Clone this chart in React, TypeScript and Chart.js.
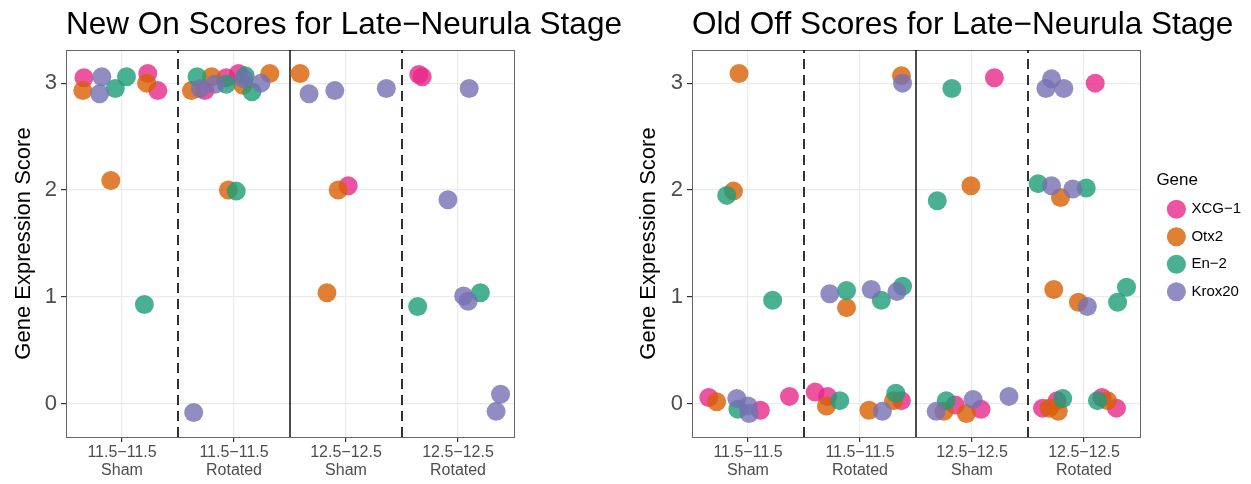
import React, { useEffect, useRef } from 'react';
import { Chart, registerables } from 'chart.js';

Chart.register(...registerables);

// ---------- data ----------
const genes = ['XCG−1', 'Otx2', 'En−2', 'Krox20'];
const geneColors = [
  'rgba(231,41,138,0.8)',
  'rgba(217,95,2,0.8)',
  'rgba(27,158,119,0.8)',
  'rgba(117,112,179,0.8)',
];
const stageLabels = ['11.5−11.5', '11.5−11.5', '12.5−12.5', '12.5−12.5'];
const conditionLabels = ['Sham', 'Rotated', 'Sham', 'Rotated'];
const xTicks = [1, 2, 3, 4];
const yTicks = [0, 1, 2, 3];
const dashedDividers = [1.5, 3.5];
const solidDividers = [2.5];
const yRange = [-0.31, 3.31];
const xRange = [0.5, 4.5];

// New On scores: [jittered group position, score]
const newOnXCG1 = [
  [0.66, 3.05], [1.23, 3.09], [1.32, 2.93], [1.74, 2.93], [1.93, 3.05], [2.04, 3.09],
  [3.02, 2.04], [3.65, 3.08], [3.68, 3.06],
];
const newOnOtx2 = [
  [0.65, 2.93], [1.22, 3.0], [0.9, 2.09], [1.62, 2.93], [1.8, 3.06], [2.08, 2.98],
  [2.32, 3.09], [1.95, 2.0], [2.59, 3.09], [2.93, 2.0], [2.83, 1.04],
];
const newOnEn2 = [
  [0.94, 2.95], [1.04, 3.06], [1.2, 0.93], [1.67, 3.06], [1.93, 2.99], [2.1, 3.07],
  [2.16, 2.92], [2.02, 1.99], [3.64, 0.91], [4.2, 1.04],
];
const newOnKrox20 = [
  [0.82, 3.06], [0.8, 2.9], [1.64, -0.08], [1.7, 2.95], [1.83, 2.99], [2.09, 3.04],
  [2.24, 3.0], [2.67, 2.9], [2.9, 2.93], [3.36, 2.95], [4.1, 2.95], [3.91, 1.91],
  [4.05, 1.01], [4.09, 0.96], [4.38, 0.09], [4.34, -0.07],
];

// Old Off scores
const oldOffXCG1 = [
  [0.65, 0.06], [1.11, -0.06], [1.37, 0.07], [1.6, 0.11], [1.71, 0.07], [2.37, 0.03],
  [3.2, 3.05], [2.85, -0.01], [3.08, -0.05], [4.1, 3.0], [3.63, -0.04], [3.76, 0.03],
  [4.16, 0.06], [4.29, -0.04],
];
const oldOffOtx2 = [
  [0.72, 0.02], [0.92, 3.09], [0.87, 1.99], [1.7, -0.02], [1.88, 0.9], [2.37, 3.07],
  [2.08, -0.06], [2.3, 0.03], [2.99, 2.04], [2.75, -0.07], [2.95, -0.09], [3.79, 1.93],
  [3.73, 1.07], [3.95, 0.95], [3.69, -0.04], [3.77, -0.07], [4.21, 0.03],
];
const oldOffEn2 = [
  [0.91, -0.05], [0.81, 1.95], [1.22, 0.97], [1.82, 0.03], [1.88, 1.06], [2.19, 0.97],
  [2.38, 1.1], [2.32, 0.1], [2.82, 2.95], [2.69, 1.9], [2.77, 0.03], [3.59, 2.06],
  [4.02, 2.02], [4.3, 0.95], [4.38, 1.09], [3.81, 0.05], [4.12, 0.03],
];
const oldOffKrox20 = [
  [0.9, 0.05], [1.0, -0.02], [1.01, -0.09], [1.73, 1.03], [2.1, 1.07], [2.33, 1.05],
  [2.38, 3.0], [2.2, -0.07], [2.68, -0.07], [3.01, 0.04], [3.33, 0.07], [3.71, 3.04],
  [3.66, 2.95], [3.82, 2.95], [3.71, 2.04], [3.9, 2.01], [4.03, 0.91],
];

const newOnSeries = [newOnXCG1, newOnOtx2, newOnEn2, newOnKrox20];
const oldOffSeries = [oldOffXCG1, oldOffOtx2, oldOffEn2, oldOffKrox20];

// ---------- styling / layout ----------
const FONT = "'Liberation Sans', Arial, Helvetica, sans-serif";
const H = 484;

const titleSpanPlugin = {
  id: 'titleSpan',
  afterLayout(chart: any) {
    const t = chart.titleBlock;
    if (t) {
      t.left = chart.chartArea.left;
      t.right = chart.width;
      t.width = t.right - t.left;
    }
  },
};

function buildConfig(
  title: string,
  series: number[][][],
  showLegend: boolean,
  yAxisWidth: number,
  plotRight: number
): any {
  const pointSets = series.map((pts, i) => ({
    type: 'scatter',
    label: genes[i],
    data: pts.map(([x, y]) => ({ x, y })),
    backgroundColor: geneColors[i],
    borderColor: geneColors[i],
    pointRadius: 9.5,
    pointHoverRadius: 9.5,
    pointBorderWidth: 0,
    borderWidth: 0,
    order: 3 - i,
  }));
  const dividerSet = (x: number, dashed: boolean) => ({
    type: 'line',
    label: '_divider',
    data: [
      { x, y: yRange[0] },
      { x, y: yRange[1] },
    ],
    borderColor: '#000',
    borderWidth: dashed ? 1.6 : 1.4,
    borderDash: dashed ? [10, 6] : [],
    pointRadius: 0,
    showLine: true,
    fill: false,
    order: 10,
  });
  const dividers = [
    ...dashedDividers.map((x) => dividerSet(x, true)),
    ...solidDividers.map((x) => dividerSet(x, false)),
  ];

  return {
    type: 'scatter',
    data: { datasets: [...pointSets, ...dividers] },
    plugins: [titleSpanPlugin],
    options: {
      animation: false,
      responsive: false,
      devicePixelRatio: 1,
      events: [],
      layout: { padding: 0 },
      plugins: {
        tooltip: { enabled: false },
        title: {
          display: true,
          text: title,
          align: 'start',
          fullSize: false,
          color: '#000',
          font: { family: FONT, size: 31.5, weight: 'normal', lineHeight: 1.2 },
          padding: { top: 6, bottom: 6.2 },
        },
        legend: {
          display: showLegend,
          position: 'right',
          align: 'center',
          labels: {
            usePointStyle: true,
            pointStyle: 'circle',
            boxWidth: 15,
            boxHeight: 13.5,
            padding: 12.5,
            color: '#000',
            font: { family: FONT, size: 15 },
            filter: (item: any) => item.datasetIndex < genes.length,
            sort: (a: any, b: any) => a.datasetIndex - b.datasetIndex,
          },
          title: {
            display: true,
            text: 'Gene',
            position: 'start',
            color: '#000',
            font: { family: FONT, size: 17, lineHeight: 1 },
            padding: { top: 0, bottom: 0 },
          },
        },
      },
      scales: {
        x: {
          type: 'linear',
          position: 'bottom',
          min: xRange[0],
          max: xRange[1],
          afterBuildTicks: (s: any) => {
            s.ticks = xTicks.map((v) => ({ value: v }));
          },
          afterFit: (s: any) => {
            s.height = 47;
          },
          grid: { color: '#EBEBEB', lineWidth: 1.2, tickColor: '#333', tickLength: 5 },
          border: { display: true, color: '#666', width: 1 },
          ticks: {
            autoSkip: false,
            maxRotation: 0,
            padding: 1,
            color: '#4D4D4D',
            font: { family: FONT, size: 16, lineHeight: 1.15 },
            callback: (_v: any, i: number) => [stageLabels[i], conditionLabels[i]],
          },
        },
        y: {
          type: 'linear',
          position: 'left',
          min: yRange[0],
          max: yRange[1],
          afterBuildTicks: (s: any) => {
            s.ticks = yTicks.map((v) => ({ value: v }));
          },
          afterFit: (s: any) => {
            s.width = yAxisWidth;
          },
          grid: { color: '#EBEBEB', lineWidth: 1.2, tickColor: '#333', tickLength: 5 },
          border: { display: true, color: '#666', width: 1 },
          ticks: {
            padding: 4,
            color: '#4D4D4D',
            font: { family: FONT, size: 22 },
            callback: (v: any) => String(v),
          },
          title: {
            display: true,
            text: 'Gene Expression Score',
            color: '#000',
            font: { family: FONT, size: 22 },
            padding: { top: 11, bottom: 0 },
          },
        },
        x2: {
          type: 'linear',
          position: 'top',
          display: true,
          grid: { display: false },
          ticks: { display: false },
          border: { display: true, color: '#666', width: 1 },
          afterFit: (s: any) => {
            s.height = 0;
          },
        },
        y2: {
          type: 'linear',
          position: 'right',
          display: true,
          grid: { display: false },
          ticks: { display: false },
          border: { display: true, color: '#666', width: 1 },
          afterFit: (s: any) => {
            const lw = showLegend && s.chart.legend ? s.chart.legend.width : 0;
            s.width = Math.max(0, s.chart.width - plotRight - lw);
          },
        },
      },
    },
  };
}

function Panel(props: {
  left: number;
  width: number;
  title: string;
  series: number[][][];
  showLegend: boolean;
  yAxisWidth: number;
  plotRight: number;
}) {
  const ref = useRef<HTMLCanvasElement | null>(null);
  useEffect(() => {
    if (!ref.current) return;
    const chart = new Chart(
      ref.current,
      buildConfig(props.title, props.series, props.showLegend, props.yAxisWidth, props.plotRight)
    );
    return () => chart.destroy();
  }, []);
  return (
    <canvas
      ref={ref}
      width={props.width}
      height={H}
      style={{ position: 'absolute', left: props.left, top: 0, width: props.width, height: H }}
    />
  );
}

export default function App() {
  return (
    <div
      style={{
        position: 'fixed',
        left: 0,
        top: 0,
        width: 1251,
        height: H,
        background: '#fff',
        overflow: 'hidden',
      }}
    >
      <Panel
        left={0}
        width={625}
        title="New On Scores for Late−Neurula Stage"
        series={newOnSeries}
        showLegend={false}
        yAxisWidth={66}
        plotRight={514}
      />
      <Panel
        left={625}
        width={626}
        title="Old Off Scores for Late−Neurula Stage"
        series={oldOffSeries}
        showLegend={true}
        yAxisWidth={67}
        plotRight={515}
      />
    </div>
  );
}
